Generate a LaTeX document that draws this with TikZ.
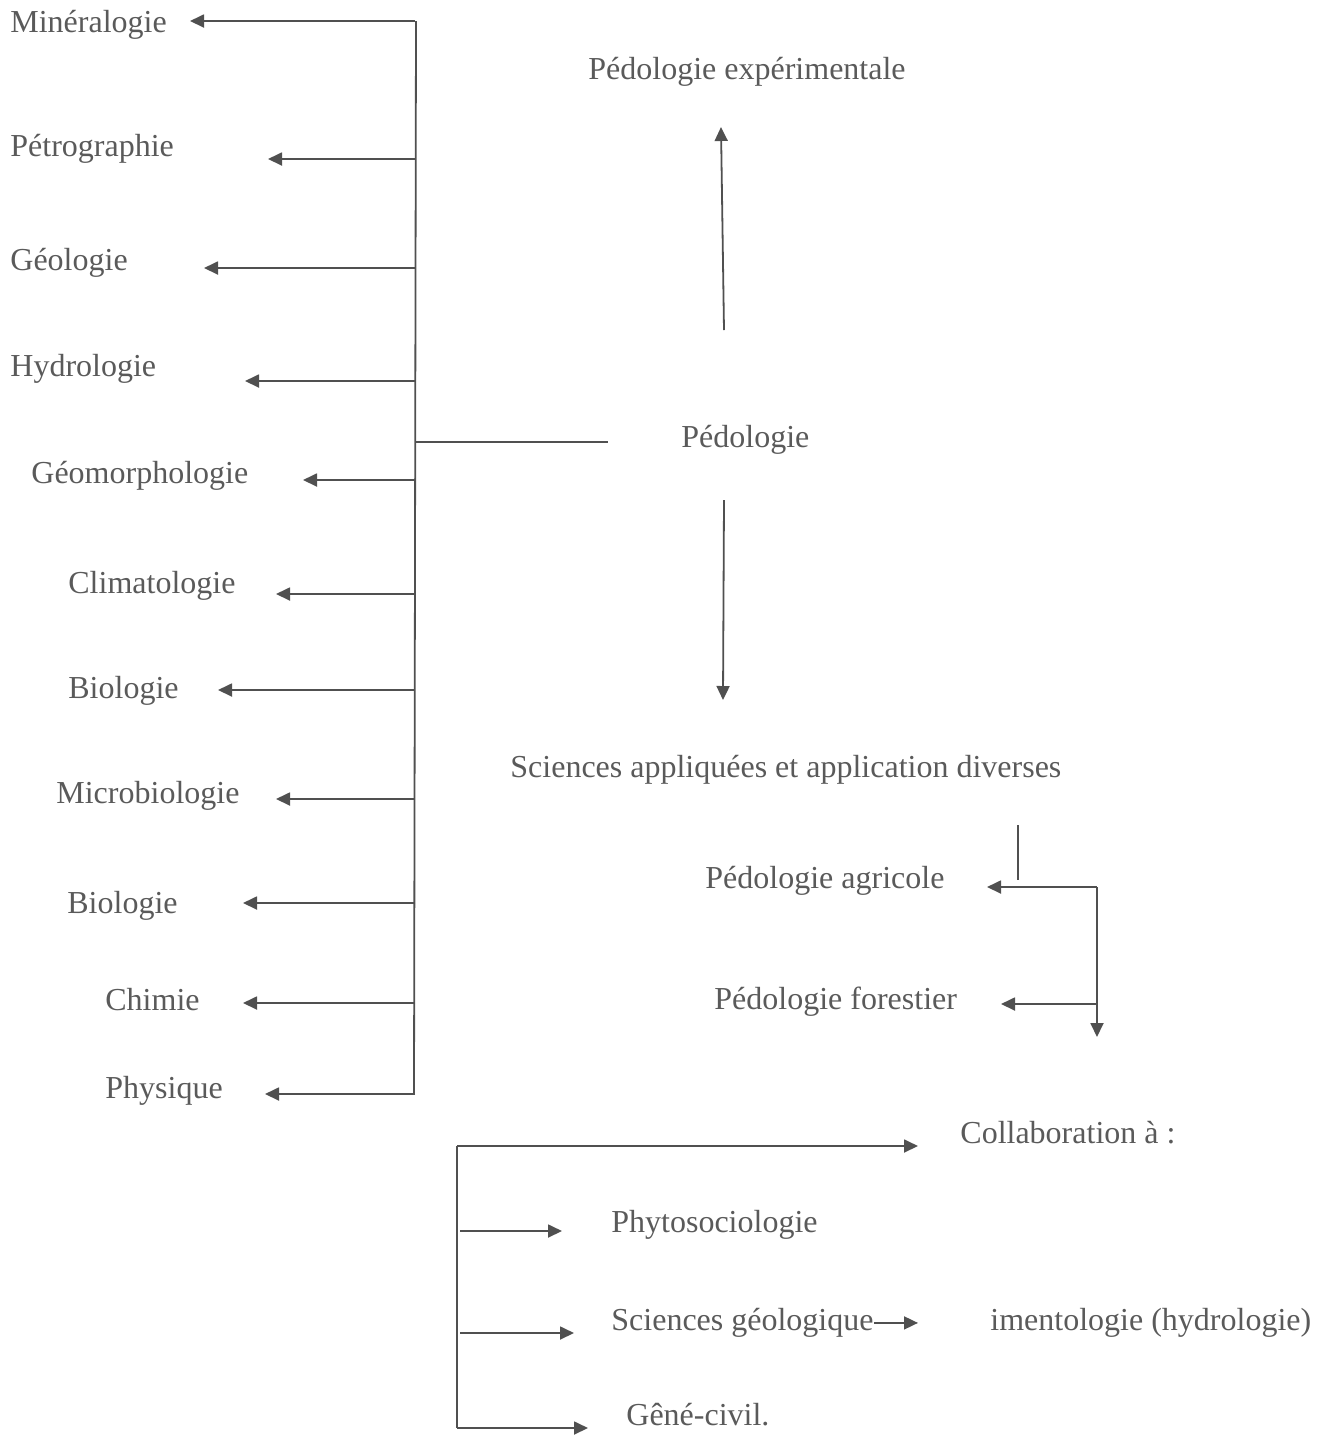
\documentclass[tikz,border=0pt]{standalone}
\usepackage{fontspec}
\setmainfont{Liberation Serif}
\usetikzlibrary{arrows.meta}
\definecolor{ink}{HTML}{505050}
\definecolor{txt}{HTML}{5A5A5A}
\begin{document}
\begin{tikzpicture}[x=0.5pt,y=-0.5pt,
 lbl/.style={anchor=mid west,inner sep=0pt,text=txt,font=\fontsize{16}{19}\selectfont},
 ln/.style={draw=ink,line width=0.9pt},
 arr/.style={ln,-{Triangle[length=7pt,width=6.5pt]}}]
\useasboundingbox (0,0) rectangle (1317,1437);
% left labels
\node[lbl] (min) at (10,28) {Minéralogie};
\node[lbl] (pet) at (10,152) {Pétrographie};
\node[lbl] (geo) at (10,266) {Géologie};
\node[lbl] (hyd) at (10,372) {Hydrologie};
\node[lbl] (gmo) at (31,479) {Géomorphologie};
\node[lbl] (cli) at (68,589) {Climatologie};
\node[lbl] (bioa) at (68,694) {Biologie};
\node[lbl] (mic) at (56,799) {Microbiologie};
\node[lbl] (biob) at (67,909) {Biologie};
\node[lbl] (chi) at (105,1006) {Chimie};
\node[lbl] (phy) at (105,1094) {Physique};
% right labels
\node[lbl] (pexp) at (588,75) {Pédologie expérimentale};
\node[lbl] (ped) at (681,443) {Pédologie};
\node[lbl] (sci) at (510,773) {Sciences appliquées et application diverses};
\node[lbl] (agr) at (705,884) {Pédologie agricole};
\node[lbl] (for) at (714,1005) {Pédologie forestier};
\node[lbl] (col) at (960,1139) {Collaboration à :};
\node[lbl] (phyt) at (611,1228) {Phytosociologie};
\node[lbl] (sgeo) at (611,1326) {Sciences géologique};
\node[lbl] (sed) at (990,1326) {imentologie (hydrologie)};
\node[lbl] (gen) at (626,1421) {Gêné-civil.};
% main left bracket
\coordinate (vt) at (416,21);
\coordinate (vb) at (414,1094);
\draw[ln] (vt) -- (vb);
\foreach \n/\y/\t in {1/21/190,2/159/268,3/268/204,4/381/245,5/480/303,6/594/276,7/690/218,8/799/276,9/903/243,10/1003/243,11/1094/265}{
  \coordinate (b\n) at (415,\y);
  \coordinate (t\n) at (\t,\y);
  \draw[arr] (b\n) -- (t\n);
}
\coordinate (bp) at (415,442);
\coordinate (pe) at (608,442);
\draw[ln] (bp) -- (pe);
% up / down arrows
\coordinate (u0) at (724,330);
\coordinate (u1) at (721,127);
\draw[arr] (u0) -- (u1);
\coordinate (d0) at (724,500);
\coordinate (d1) at (723,700);
\draw[arr] (d0) -- (d1);
% applied branch
\coordinate (s0) at (1018,825);
\coordinate (s1) at (1018,880);
\draw[ln] (s0) -- (s1);
\coordinate (r1) at (1097,887);
\coordinate (ra) at (987,887);
\coordinate (rb) at (1097,1037);
\coordinate (rf) at (1097,1004);
\coordinate (rft) at (1001,1004);
\draw[arr] (r1) -- (ra);
\draw[arr] (r1) -- (rb);
\draw[arr] (rf) -- (rft);
% collaboration bracket
\coordinate (ct) at (457,1146);
\coordinate (cb) at (457,1428);
\coordinate (cc) at (918,1146);
\draw[ln] (ct) -- (cb);
\draw[arr] (ct) -- (cc);
\coordinate (p0) at (460,1231);
\coordinate (p1) at (562,1231);
\draw[arr] (p0) -- (p1);
\coordinate (g0) at (460,1333);
\coordinate (g1) at (574,1333);
\draw[arr] (g0) -- (g1);
\coordinate (e1) at (588,1428);
\draw[arr] (cb) -- (e1);
\coordinate (sg1) at (918,1322);
\draw[arr] (sgeo.east) -- (sgeo.east -| sg1);
\end{tikzpicture}
\end{document}
